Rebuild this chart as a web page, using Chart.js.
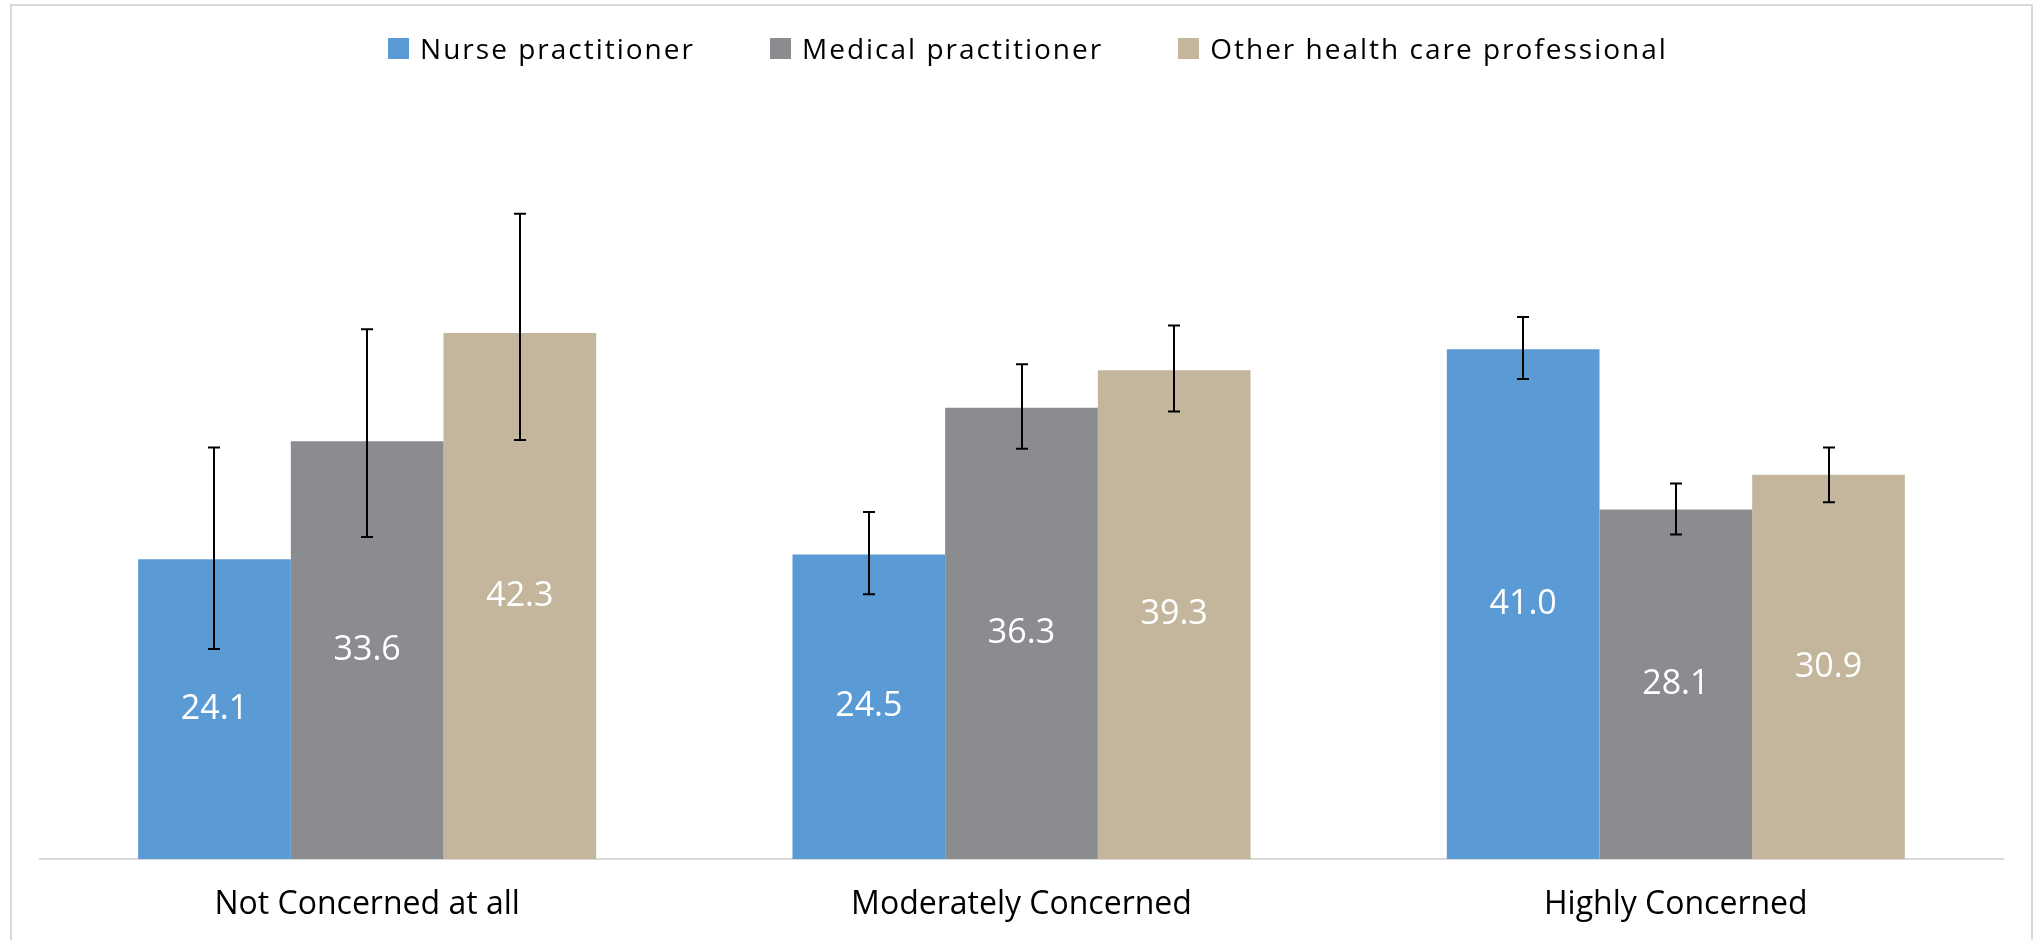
<!DOCTYPE html>
<html>
<head>
<meta charset="utf-8">
<script src="https://cdn.jsdelivr.net/npm/chart.js@4.4.1/dist/chart.umd.min.js"></script>
<style>
  html, body { margin: 0; padding: 0; background: #ffffff; overflow: hidden; }
  #wrap { position: relative; width: 2042px; height: 940px; }
  #frame { position: absolute; left: 10px; top: 4px; width: 2023px; height: 1000px;
           border: 2px solid #d9d9d9; box-sizing: border-box; pointer-events: none; }
  #legend { position: absolute; left: 0; top: 32px; width: 2042px; height: 32px; padding-left: 14px; box-sizing: border-box;
            display: flex; justify-content: center; align-items: center; gap: 75px;
            font-family: "Open Sans", sans-serif; font-size: 28px; letter-spacing: 2px; color: #000; }
  .item { display: flex; align-items: center; gap: 11px; white-space: nowrap; }
  .box { width: 21px; height: 21px; display: inline-block; }
  canvas { position: absolute; left: 0; top: 0; }
</style>
</head>
<body>
<div id="wrap">
  <canvas id="c" width="2042" height="940"></canvas>
  <div id="legend"></div>
  <div id="frame"></div>
</div>
<script>
// ---- data ----
const categories = ['Not Concerned at all', 'Moderately Concerned', 'Highly Concerned'];
const seriesNames = ['Nurse practitioner', 'Medical practitioner', 'Other health care professional'];
const nurseValues   = [24.1, 24.5, 41.0];
const medicalValues = [33.6, 36.3, 28.1];
const otherValues   = [42.3, 39.3, 30.9];
const nurseLow    = [16.9, 21.3, 38.6];
const nurseHigh   = [33.1, 27.9, 43.6];
const medicalLow  = [25.9, 33.0, 26.1];
const medicalHigh = [42.6, 39.8, 30.2];
const otherLow    = [33.7, 36.0, 28.7];
const otherHigh   = [51.9, 42.9, 33.1];
const seriesColors = ['#5B9BD5', '#8B8C90', '#C4B69C'];

const errorPlugin = {
  id: 'errorBars',
  afterDatasetsDraw(chart) {
    const ctx = chart.ctx;
    const y = chart.scales.y;
    // value labels
    chart.data.datasets.forEach((ds, di) => {
      const meta = chart.getDatasetMeta(di);
      meta.data.forEach((bar, i) => {
        const v = ds.data[i];
        const cy = (bar.y + bar.base) / 2;
        ctx.save();
        ctx.font = '34px "Open Sans", sans-serif';
        ctx.fillStyle = '#ffffff';
        ctx.textAlign = 'center';
        ctx.textBaseline = 'middle';
        ctx.fillText(v.toFixed(1), bar.x, cy);
        ctx.restore();
      });
    });
    // error bars
    chart.data.datasets.forEach((ds, di) => {
      const meta = chart.getDatasetMeta(di);
      meta.data.forEach((bar, i) => {
        const yl = y.getPixelForValue(ds.errLow[i]);
        const yh = y.getPixelForValue(ds.errHigh[i]);
        const x = Math.round(bar.x);
        ctx.save();
        ctx.strokeStyle = '#000000';
        ctx.lineWidth = 2;
        ctx.beginPath();
        ctx.moveTo(x, yh); ctx.lineTo(x, yl);
        ctx.moveTo(x - 6, yh); ctx.lineTo(x + 6, yh);
        ctx.moveTo(x - 6, yl); ctx.lineTo(x + 6, yl);
        ctx.stroke();
        ctx.restore();
      });
    });
  }
};

const htmlLegend = {
  id: 'htmlLegend',
  afterUpdate(chart) {
    const el = document.getElementById('legend');
    el.innerHTML = '';
    chart.data.datasets.forEach(ds => {
      const item = document.createElement('div');
      item.className = 'item';
      const box = document.createElement('span');
      box.className = 'box';
      box.style.background = ds.backgroundColor;
      const t = document.createElement('span');
      t.textContent = ds.label;
      item.appendChild(box);
      item.appendChild(t);
      el.appendChild(item);
    });
  }
};

new Chart(document.getElementById('c'), {
  type: 'bar',
  data: {
    labels: categories,
    datasets: [
      { label: seriesNames[0], data: nurseValues, backgroundColor: seriesColors[0], errLow: nurseLow, errHigh: nurseHigh },
      { label: seriesNames[1], data: medicalValues, backgroundColor: seriesColors[1], errLow: medicalLow, errHigh: medicalHigh },
      { label: seriesNames[2], data: otherValues, backgroundColor: seriesColors[2], errLow: otherLow, errHigh: otherHigh }
    ]
  },
  options: {
    responsive: false,
    animation: false,
    devicePixelRatio: 1,
    layout: { padding: { top: 113, left: 40, right: 39, bottom: 0 } },
    datasets: { bar: { categoryPercentage: 0.70, barPercentage: 1.0, borderWidth: 0 } },
    plugins: { legend: { display: false }, tooltip: { enabled: false } },
    scales: {
      x: {
        grid: { display: false, drawTicks: false },
        border: { display: true, color: '#d9d9d9', width: 2 },
        ticks: { color: '#000000', padding: 27, font: { family: '"Open Sans", sans-serif', size: 32 } },
        afterFit(scale) { scale.height = 81; }
      },
      y: {
        display: false,
        min: 0,
        max: 60
      }
    }
  },
  plugins: [errorPlugin, htmlLegend]
});
</script>
</body>
</html>
